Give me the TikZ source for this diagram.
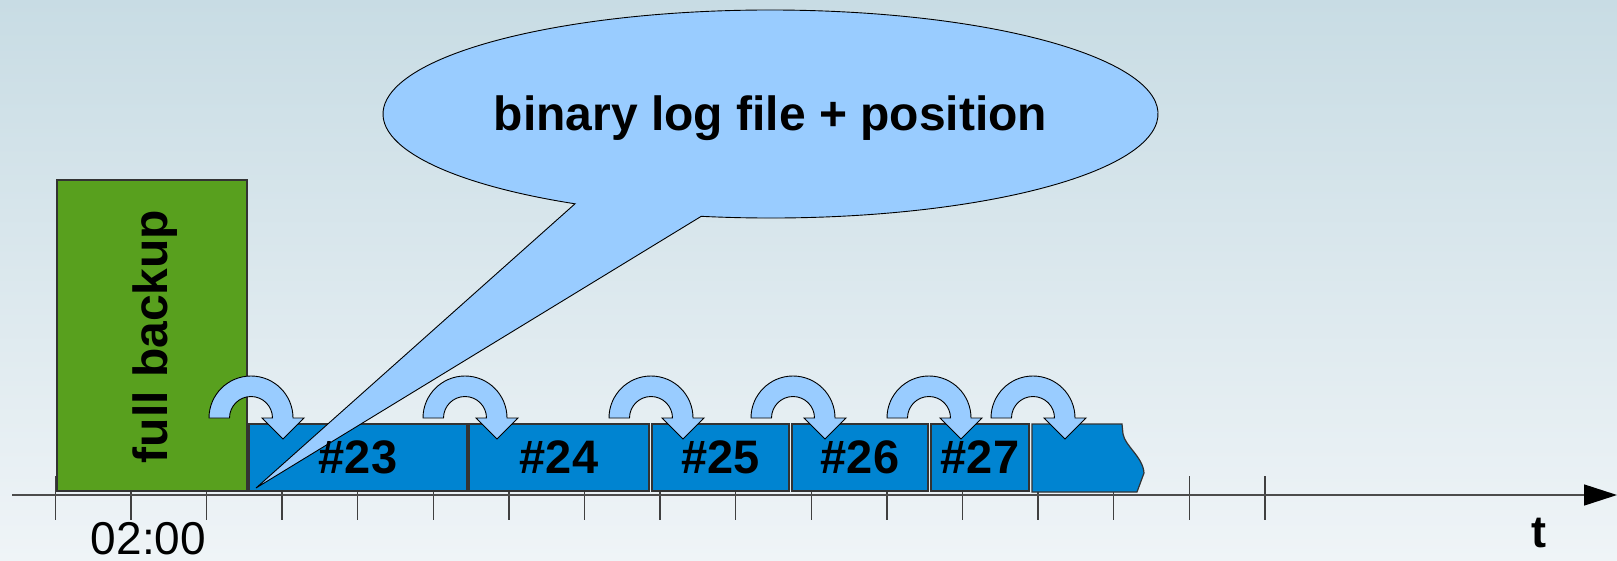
\documentclass[tikz,border=0pt]{standalone}
\usepackage{fontspec}
\setmainfont{Liberation Sans}
\usetikzlibrary{calc,arrows.meta}
\definecolor{bgtop}{RGB}{200,220,228}
\definecolor{bgbot}{RGB}{239,244,247}
\definecolor{bkgreen}{RGB}{88,160,30}
\definecolor{logblue}{RGB}{0,132,209}
\definecolor{arrowblue}{RGB}{153,204,255}
\definecolor{edgegray}{RGB}{51,51,51}
\begin{document}
\begin{tikzpicture}[x=1pt,y=-1pt,
  logbox/.style={draw=edgegray, line width=1.2pt, fill=logblue, minimum height=67pt, inner sep=0pt, outer sep=0pt},
  lbl/.style={font=\fontsize{47}{56}\selectfont\bfseries, inner sep=0pt},
  uarrow/.style={draw=black, line width=0.9pt, fill=arrowblue, line join=miter},
  tickmark/.style={draw=black!75, line width=1.3pt}]

\useasboundingbox (0,0) rectangle (1617,560);
\shade[top color=bgtop, bottom color=bgbot] (0,0) rectangle (1617,560);

% ticks
\foreach \i in {0,...,16} { \draw[tickmark] ({55.3+75.6*\i},476) -- ({55.3+75.6*\i},520); }

% axis
\coordinate (axs) at (12,495);
\coordinate (axe) at (1617,495);
\draw[black!70, line width=1.5pt, -{Triangle[length=33pt,width=21pt,color=black]}] (axs) -- (axe);

% full backup
\node[draw=edgegray, line width=1.2pt, fill=bkgreen, minimum width=190pt, minimum height=311pt, inner sep=0pt] (full) at (152,335.5) {};
\node[rotate=90, anchor=base, inner sep=0pt, font=\fontsize{48}{58}\selectfont\bfseries] (fbtext) at (167,336.5) {full backup};

% binlog boxes
\node[logbox, minimum width=218pt] (b23) at (358,457.5) {};
\node[logbox, minimum width=180pt] (b24) at (559,457.5) {};
\node[logbox, minimum width=137pt] (b25) at (720.5,457.5) {};
\node[logbox, minimum width=136pt] (b26) at (860,457.5) {};
\node[logbox, minimum width=98pt] (b27) at (980,457.5) {};
\draw[draw=edgegray, line width=1.2pt, fill=logblue] (1032,424) -- (1122,424) -- (1123,434)
  .. controls (1125,446) and (1143,457) .. (1144,473) -- (1137,492) -- (1032,492) -- cycle;

% speech bubble
\coordinate (bc) at (770.5,114);
\coordinate (tip) at (256,488);
\draw[fill=arrowblue, draw=black, line width=0.9pt, line join=miter]
  ($(bc)+(259.7:387.5pt and 104pt)$) arc[start angle=259.7, end angle=599.7, x radius=387.5pt, y radius=104pt]
  -- (tip) -- cycle;
\node[anchor=base, inner sep=0pt, font=\fontsize{48}{58}\selectfont\bfseries] (bubtext) at (770.5,130) {binary log file + position};

% labels
\node[lbl] (l23) at (b23) {\#23};
\node[lbl] (l24) at (b24) {\#24};
\node[lbl] (l25) at (b25) {\#25};
\node[lbl] (l26) at (b26) {\#26};
\node[lbl] (l27) at (b27) {\#27};

% U-turn arrows
\foreach \cx in {251,465,651,793,929,1033} {
  \draw[uarrow] ({\cx-42},418) arc[start angle=180, end angle=0, radius=42pt]
    -- ({\cx+53},418) -- ({\cx+32},439) -- ({\cx+11},418) -- ({\cx+21.5},418)
    arc[start angle=0, end angle=180, radius=21.5pt] -- cycle;
}

% axis labels
\node[anchor=base, inner sep=0pt, font=\fontsize{46}{55}\selectfont] (time) at (148.5,554) {02:00};
\node[anchor=base, inner sep=0pt, font=\fontsize{45}{54}\selectfont\bfseries] (tlabel) at (1539,547) {t};
\end{tikzpicture}
\end{document}
